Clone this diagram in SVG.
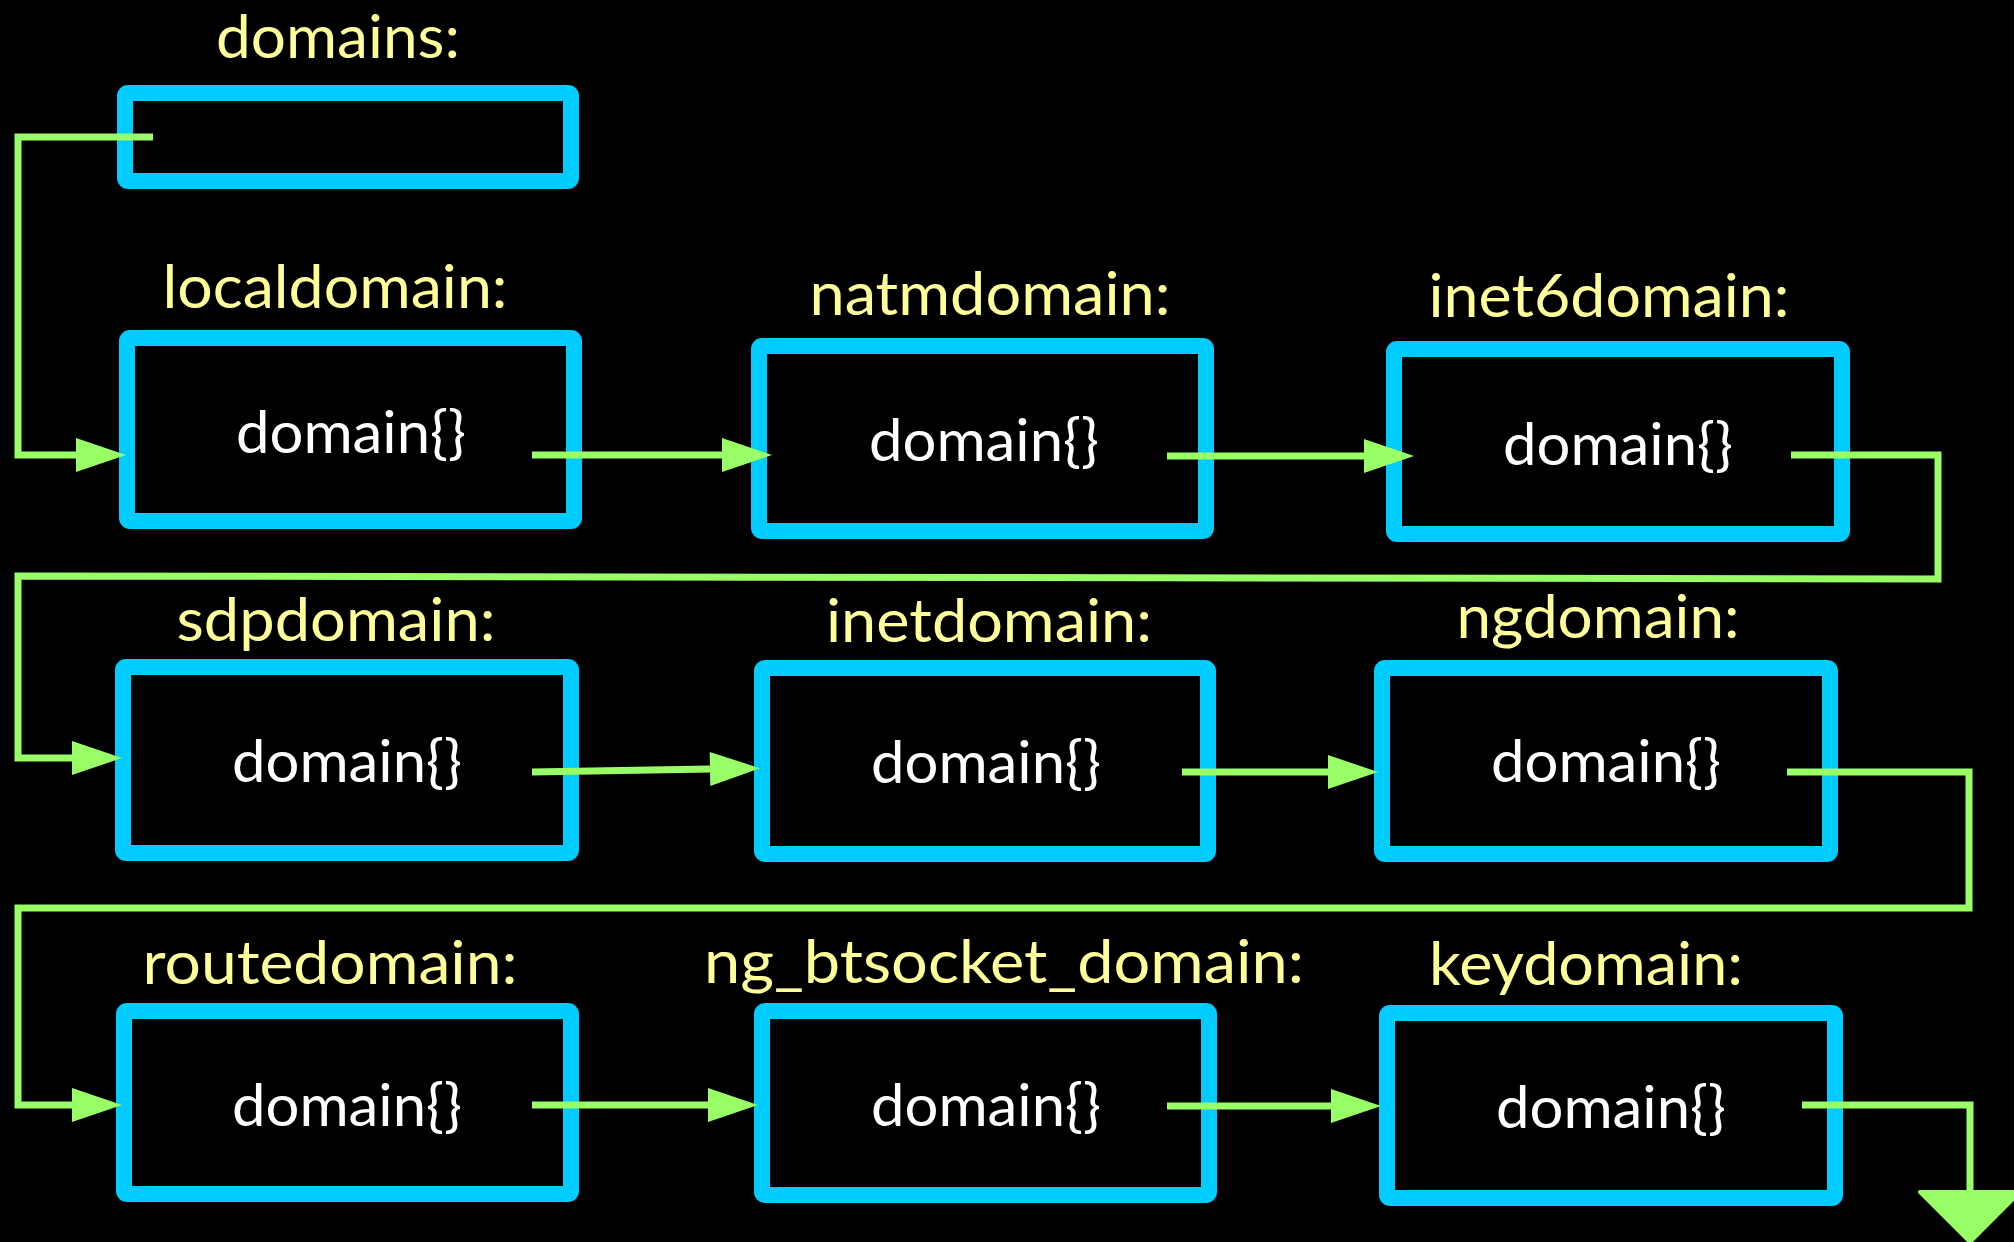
<svg xmlns="http://www.w3.org/2000/svg" width="2014" height="1242" viewBox="0 0 2014 1242">
<style>
.bg{fill:#000}
.box{fill:#000;stroke:#00CCFF;stroke-width:16;stroke-linejoin:round}
.lbl{fill:#FFFF99;font-family:Lato,"Liberation Sans",sans-serif;font-size:60px;text-anchor:middle}
.dom{fill:#FFFFFF;font-family:Lato,"Liberation Sans",sans-serif;font-size:58px;text-anchor:middle}
.con{fill:none;stroke:#99FF66;stroke-width:7;stroke-linejoin:miter;stroke-linecap:butt}
</style>
<defs>
<marker id="arr" markerUnits="userSpaceOnUse" markerWidth="52" markerHeight="36" refX="0" refY="18" orient="auto" overflow="visible">
<path d="M0,1 L50,18 L0,35 Z" fill="#99FF66"/>
</marker>
<marker id="big" markerUnits="userSpaceOnUse" markerWidth="52" markerHeight="102" refX="0" refY="51" orient="auto" overflow="visible">
<path d="M0,1 L50,51 L0,101 Z" fill="#99FF66" stroke="#99FF66" stroke-width="4" stroke-linejoin="round"/>
</marker>
</defs>
<rect class="bg" x="0" y="0" width="2014" height="1242"/>

<g id="domains">
<rect class="box" x="125" y="93" width="446" height="88" rx="3"/>
<text class="lbl" x="338" y="58" textLength="244" lengthAdjust="spacingAndGlyphs">domains:</text>
</g>
<g id="localdomain">
<rect class="box" x="127" y="338" width="447" height="183" rx="3"/>
<text class="lbl" x="335" y="308" textLength="345" lengthAdjust="spacingAndGlyphs">localdomain:</text>
<text class="dom" x="351" y="453" textLength="230" lengthAdjust="spacingAndGlyphs">domain{}</text>
</g>
<g id="natmdomain">
<rect class="box" x="759" y="346" width="447" height="185" rx="3"/>
<text class="lbl" x="990" y="315" textLength="361" lengthAdjust="spacingAndGlyphs">natmdomain:</text>
<text class="dom" x="984" y="461" textLength="230" lengthAdjust="spacingAndGlyphs">domain{}</text>
</g>
<g id="inet6domain">
<rect class="box" x="1394" y="349" width="448" height="185" rx="3"/>
<text class="lbl" x="1609" y="317" textLength="361" lengthAdjust="spacingAndGlyphs">inet6domain:</text>
<text class="dom" x="1618" y="465" textLength="230" lengthAdjust="spacingAndGlyphs">domain{}</text>
</g>
<g id="sdpdomain">
<rect class="box" x="123" y="667" width="448" height="186" rx="3"/>
<text class="lbl" x="336" y="641" textLength="319" lengthAdjust="spacingAndGlyphs">sdpdomain:</text>
<text class="dom" x="347" y="782" textLength="230" lengthAdjust="spacingAndGlyphs">domain{}</text>
</g>
<g id="inetdomain">
<rect class="box" x="762" y="668" width="446" height="186" rx="3"/>
<text class="lbl" x="989" y="642" textLength="326" lengthAdjust="spacingAndGlyphs">inetdomain:</text>
<text class="dom" x="986" y="783" textLength="230" lengthAdjust="spacingAndGlyphs">domain{}</text>
</g>
<g id="ngdomain">
<rect class="box" x="1382" y="668" width="448" height="186" rx="3"/>
<text class="lbl" x="1598" y="638" textLength="283" lengthAdjust="spacingAndGlyphs">ngdomain:</text>
<text class="dom" x="1606" y="782" textLength="230" lengthAdjust="spacingAndGlyphs">domain{}</text>
</g>
<g id="routedomain">
<rect class="box" x="124" y="1011" width="447" height="183" rx="3"/>
<text class="lbl" x="330" y="984" textLength="375" lengthAdjust="spacingAndGlyphs">routedomain:</text>
<text class="dom" x="347" y="1126" textLength="230" lengthAdjust="spacingAndGlyphs">domain{}</text>
</g>
<g id="ng_btsocket_domain">
<rect class="box" x="762" y="1011" width="447" height="184" rx="3"/>
<text class="lbl" x="1004" y="983" textLength="600" lengthAdjust="spacingAndGlyphs">ng_btsocket_domain:</text>
<text class="dom" x="986" y="1126" textLength="230" lengthAdjust="spacingAndGlyphs">domain{}</text>
</g>
<g id="keydomain">
<rect class="box" x="1387" y="1013" width="448" height="185" rx="3"/>
<text class="lbl" x="1586" y="985" textLength="314" lengthAdjust="spacingAndGlyphs">keydomain:</text>
<text class="dom" x="1611" y="1128" textLength="230" lengthAdjust="spacingAndGlyphs">domain{}</text>
</g>

<g id="connectors">
<path class="con" d="M153,137 H18 V455 H76" marker-end="url(#arr)"/>
<path class="con" d="M532,455 H722" marker-end="url(#arr)"/>
<path class="con" d="M1167,456 H1364" marker-end="url(#arr)"/>
<path class="con" d="M1791,455 H1938 V579 L18,576 V758 H72" marker-end="url(#arr)"/>
<path class="con" d="M532,772 L710,769" marker-end="url(#arr)"/>
<path class="con" d="M1182,772 H1328" marker-end="url(#arr)"/>
<path class="con" d="M1787,772 H1969 V908 H18 V1105 H72" marker-end="url(#arr)"/>
<path class="con" d="M532,1105 H708" marker-end="url(#arr)"/>
<path class="con" d="M1167,1106 H1331" marker-end="url(#arr)"/>
<path class="con" d="M1802,1105 H1970 V1192" marker-end="url(#big)"/>
</g>
</svg>
